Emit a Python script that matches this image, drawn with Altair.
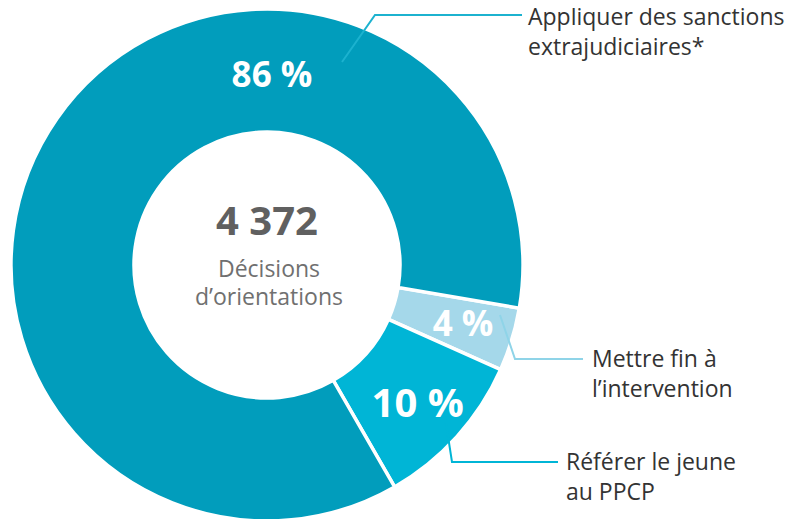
import math
import altair as alt
import pandas as pd

# ---- data ----
categories = ["Mettre fin à l'intervention", "Référer le jeune au PPCP", "Appliquer des sanctions extrajudiciaires*"]
values = [4, 10, 86]
pct_labels = ["4 %", "10 %", "86 %"]
colors = ["#a5d8ea", "#00b5d6", "#019dbc"]

# percent label placement (angle in degrees clockwise from top, radius px)
pct_angle = [107, 133, 1.5]
pct_radius = [205, 206, 189]
pct_size = [35, 40, 35]

# leader lines (chart pixel coordinates)
leader_group = ["a", "a", "a", "m", "m", "m", "r", "r", "r"]
leader_x = [334, 367, 514, 492, 507, 575, 437, 444, 550]
leader_y = [54, 7, 7, 307, 351, 351, 409, 454, 454]
leader_color = ["#1cb2cf", "#8fd4e8", "#00b5d6"]

# outside labels
lab_text = [["Appliquer des sanctions", "extrajudiciaires*"], ["Mettre fin à", "l\u2019intervention"], ["Référer le jeune", "au PPCP"]]
lab_x = [520, 584, 558]
lab_y = [10, 352, 455]

center_total = "4 372"
center_sub = ["Décisions", "d\u2019orientations"]

W, H = 786, 511
CX, CY = 259, 257
START = math.radians(99.7)

xs = alt.Scale(domain=[0, W], range=[0, W])
ys = alt.Scale(domain=[0, H], range=[0, H])

df = pd.DataFrame({"cat": categories, "value": values, "order": [0, 1, 2],
                   "pct": pct_labels, "ang": pct_angle, "rad": pct_radius, "size": pct_size})

arc = alt.Chart(df).mark_arc(outerRadius=256, innerRadius=133, stroke="white", strokeWidth=3.5).encode(
    theta=alt.Theta("value:Q", stack=True, scale=alt.Scale(domain=[0, 100], range=[START, START + 2 * math.pi])),
    order=alt.Order("order:Q"),
    color=alt.Color("cat:N", scale=alt.Scale(domain=categories, range=colors), legend=None),
    x=alt.value(CX), y=alt.value(CY),
)

pct = alt.Chart(df).mark_text(font="Open Sans", fontWeight="bold", color="white", align="center", baseline="middle").encode(
    theta=alt.Theta("ang:Q", scale=alt.Scale(domain=[0, 360], range=[0, 2 * math.pi])),
    radius=alt.Radius("rad:Q", scale=alt.Scale(type="linear", domain=[0, 256], range=[0, 256])),
    text="pct:N",
    size=alt.Size("size:Q", scale=None),
    x=alt.value(CX), y=alt.value(CY),
)

ldf = pd.DataFrame({"g": leader_group, "x": leader_x, "y": leader_y, "i": list(range(9))})
leaders = alt.Chart(ldf).mark_line(strokeWidth=2).encode(
    x=alt.X("x:Q", scale=xs, axis=None),
    y=alt.Y("y:Q", scale=ys, axis=None),
    order="i:Q",
    color=alt.Color("g:N", scale=alt.Scale(domain=["a", "m", "r"], range=leader_color), legend=None),
)

tdf = pd.DataFrame({"t": lab_text, "x": lab_x, "y": lab_y})
labels = alt.Chart(tdf).mark_text(font="Open Sans", fontSize=23, color="#333333", align="left",
                                   baseline="middle", lineHeight=30).encode(
    x=alt.X("x:Q", scale=xs, axis=None),
    y=alt.Y("y:Q", scale=ys, axis=None),
    text="t",
)

cdf = pd.DataFrame({"t": [center_total], "x": [CX], "y": [215]})
ctotal = alt.Chart(cdf).mark_text(font="Open Sans", fontWeight="bold", fontSize=40, color="#606060",
                                  align="center", baseline="middle").encode(
    x=alt.X("x:Q", scale=xs, axis=None), y=alt.Y("y:Q", scale=ys, axis=None), text="t:N")

sdf = pd.DataFrame({"t": [center_sub], "x": [CX + 2], "y": [262]})
csub = alt.Chart(sdf).mark_text(font="Open Sans", fontSize=23, color="#707070", align="center",
                                baseline="middle", lineHeight=28).encode(
    x=alt.X("x:Q", scale=xs, axis=None), y=alt.Y("y:Q", scale=ys, axis=None), text="t")

chart = alt.layer(arc, pct, leaders, labels, ctotal, csub).resolve_scale(
    theta="independent", radius="independent", color="independent", size="independent"
).properties(
    width=W, height=H, padding=0, autosize=alt.AutoSizeParams(type="none")
).configure_view(stroke=None)

chart.save("out.html", embed_options={"renderer": "svg", "actions": False})
